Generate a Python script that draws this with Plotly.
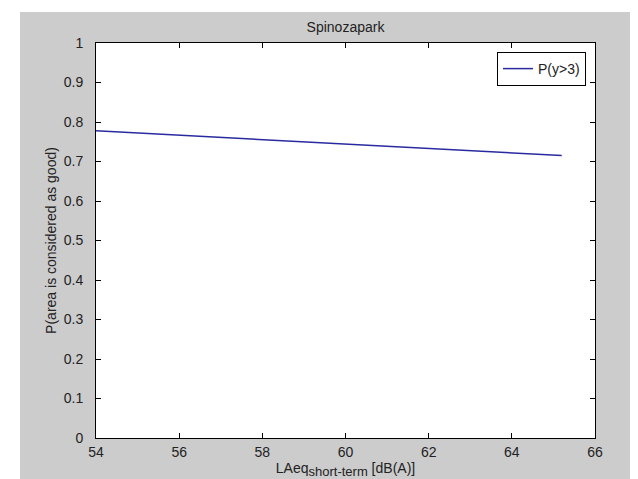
import plotly.graph_objects as go

x_vals = [54, 56, 58, 60, 62, 64, 65.2]
p_vals = [0.778, 0.767, 0.756, 0.745, 0.734, 0.722, 0.715]
x_ticks = [54, 56, 58, 60, 62, 64, 66]
y_ticks = [0, 0.1, 0.2, 0.3, 0.4, 0.5, 0.6, 0.7, 0.8, 0.9, 1]

W, H = 638, 479
L, R, T, B = 88, 51, 35, 49
pw, ph = W - L - R, H - T - B

fig = go.Figure()
fig.add_trace(go.Scatter(x=x_vals, y=p_vals, mode="lines", name="P(y>3)",
                         line=dict(color="#2a2aa0", width=1.5)))

font = dict(family="Liberation Sans, Arial, sans-serif", size=14, color="#222222")
axis_common = dict(showline=True, linecolor="black", linewidth=1, mirror="ticks",
                   ticks="inside", ticklen=5, tickcolor="black", showgrid=False,
                   zeroline=False, tickfont=font)

fig.update_layout(
    width=W, height=H,
    margin=dict(l=L, r=R, t=T, b=B, pad=0),
    paper_bgcolor="#cccccc", plot_bgcolor="white",
    font=font,
    title=dict(text="Spinozapark", x=(L + pw / 2) / W, xanchor="center",
               y=1 - 19 / H, yanchor="middle", font=font),
    xaxis=dict(range=[54, 66], tickvals=x_ticks, ticktext=[str(v) for v in x_ticks],
               ticklabelstandoff=1,
               title=dict(text="LAeq<sub><span style=\"font-size:13px\">short-term</span></sub> [dB(A)]",
                          font=font, standoff=2),
               **axis_common),
    yaxis=dict(range=[0, 1], tickvals=y_ticks,
               ticktext=["0" if v == 0 else ("1" if v == 1 else str(v)) for v in y_ticks],
               ticklabelstandoff=9,
               title=dict(text="P(area is considered as good)", font=font, standoff=3),
               **axis_common),
    legend=dict(x=(578 - L) / pw, y=(H - B - 44) / ph, xanchor="right", yanchor="top",
                bgcolor="white", bordercolor="black", borderwidth=1, font=font),
    showlegend=True,
    shapes=[
        dict(type="rect", xref="paper", yref="paper",
             x0=-L / pw - 0.05, x1=(12 - L) / pw, y0=-B / ph - 0.05, y1=1 + T / ph + 0.05,
             fillcolor="white", line=dict(width=0), layer="below"),
        dict(type="rect", xref="paper", yref="paper",
             x0=-L / pw - 0.05, x1=1 + R / pw + 0.05, y0=1 + (T - 4) / ph, y1=1 + T / ph + 0.05,
             fillcolor="white", line=dict(width=0), layer="below"),
    ],
)

fig.write_html("out.html")
